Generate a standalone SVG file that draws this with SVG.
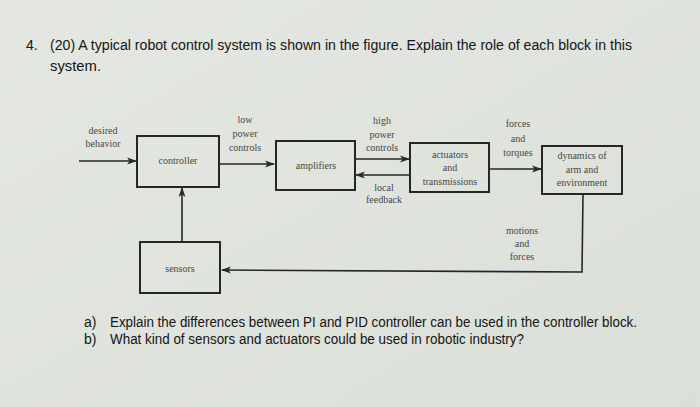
<svg xmlns="http://www.w3.org/2000/svg" width="700" height="407" viewBox="0 0 700 407">
<defs>
<linearGradient id="bg" x1="0" y1="0" x2="1" y2="1">
<stop offset="0" stop-color="#e5e8e2"/>
<stop offset="1" stop-color="#dadfd8"/>
</linearGradient>
<marker id="ah" markerWidth="10" markerHeight="8" refX="9" refY="4" orient="auto" markerUnits="userSpaceOnUse">
<path d="M0,0.5 L10,4 L0,7.5 L2.5,4 Z" fill="#2a2a2a"/>
</marker>
<style>
.q{font-family:"Liberation Sans",Arial,sans-serif;font-size:14px;fill:#141414}
.l{font-family:"Liberation Serif","Times New Roman",serif;font-size:10px;fill:#474747;text-anchor:middle}
.box{fill:none;stroke:#262626;stroke-width:2}
.c{fill:none;stroke:#262626;stroke-width:1.6}
</style>
</defs>
<rect width="700" height="407" fill="url(#bg)"/>
<g id="question">
<text class="q" x="26" y="50">4.</text>
<text class="q" x="50" y="50" textLength="582" lengthAdjust="spacingAndGlyphs">(20) A typical robot control system is shown in the figure. Explain the role of each block in this</text>
<text class="q" x="50" y="71" textLength="51" lengthAdjust="spacingAndGlyphs">system.</text>
</g>
<g id="controller">
<rect class="box" x="137" y="136" width="82" height="51"/>
<text class="l" x="178" y="164">controller</text>
</g>
<g id="amplifiers">
<rect class="box" x="276" y="141" width="79" height="49"/>
<text class="l" x="316" y="169">amplifiers</text>
</g>
<g id="actuators">
<rect class="box" x="410" y="143" width="79" height="49"/>
<text class="l" x="450" y="158">actuators</text>
<text class="l" x="450" y="171">and</text>
<text class="l" x="450" y="185">transmissions</text>
</g>
<g id="dynamics">
<rect class="box" x="542" y="146" width="80" height="48"/>
<text class="l" x="582" y="159">dynamics of</text>
<text class="l" x="582" y="173">arm and</text>
<text class="l" x="582" y="186">environment</text>
</g>
<g id="sensors">
<rect class="box" x="140" y="242" width="80" height="51"/>
<text class="l" x="180" y="272" font-size="8">sensors</text>
</g>
<g id="connectors">
<line class="c" x1="79" y1="161" x2="136" y2="161" marker-end="url(#ah)"/>
<line class="c" x1="219" y1="164" x2="274" y2="164" marker-end="url(#ah)"/>
<line class="c" x1="355" y1="159" x2="409" y2="159" marker-end="url(#ah)"/>
<line class="c" x1="410" y1="175" x2="356" y2="175" marker-end="url(#ah)"/>
<line class="c" x1="489" y1="169" x2="541" y2="169" marker-end="url(#ah)"/>
<polyline class="c" points="583,194 582,272 222,270" marker-end="url(#ah)"/>
<line class="c" x1="182" y1="242" x2="182" y2="188" marker-end="url(#ah)"/>
</g>
<g id="labels">
<text class="l" x="103" y="134">desired</text>
<text class="l" x="103" y="147">behavior</text>
<text class="l" x="245" y="123">low</text>
<text class="l" x="245" y="137">power</text>
<text class="l" x="245" y="151">controls</text>
<text class="l" x="382" y="124">high</text>
<text class="l" x="382" y="138">power</text>
<text class="l" x="382" y="151">controls</text>
<text class="l" x="384" y="191">local</text>
<text class="l" x="384" y="203">feedback</text>
<text class="l" x="518" y="127">forces</text>
<text class="l" x="518" y="142">and</text>
<text class="l" x="518" y="156">torques</text>
<text class="l" x="522" y="234">motions</text>
<text class="l" x="522" y="247">and</text>
<text class="l" x="522" y="260">forces</text>
</g>
<g id="subquestions">
<text class="q" x="84" y="327">a)</text>
<text class="q" x="110" y="327" textLength="527" lengthAdjust="spacingAndGlyphs">Explain the differences between PI and PID controller can be used in the controller block.</text>
<text class="q" x="84" y="344">b)</text>
<text class="q" x="110" y="344" textLength="414" lengthAdjust="spacingAndGlyphs">What kind of sensors and actuators could be used in robotic industry?</text>
</g>
</svg>
